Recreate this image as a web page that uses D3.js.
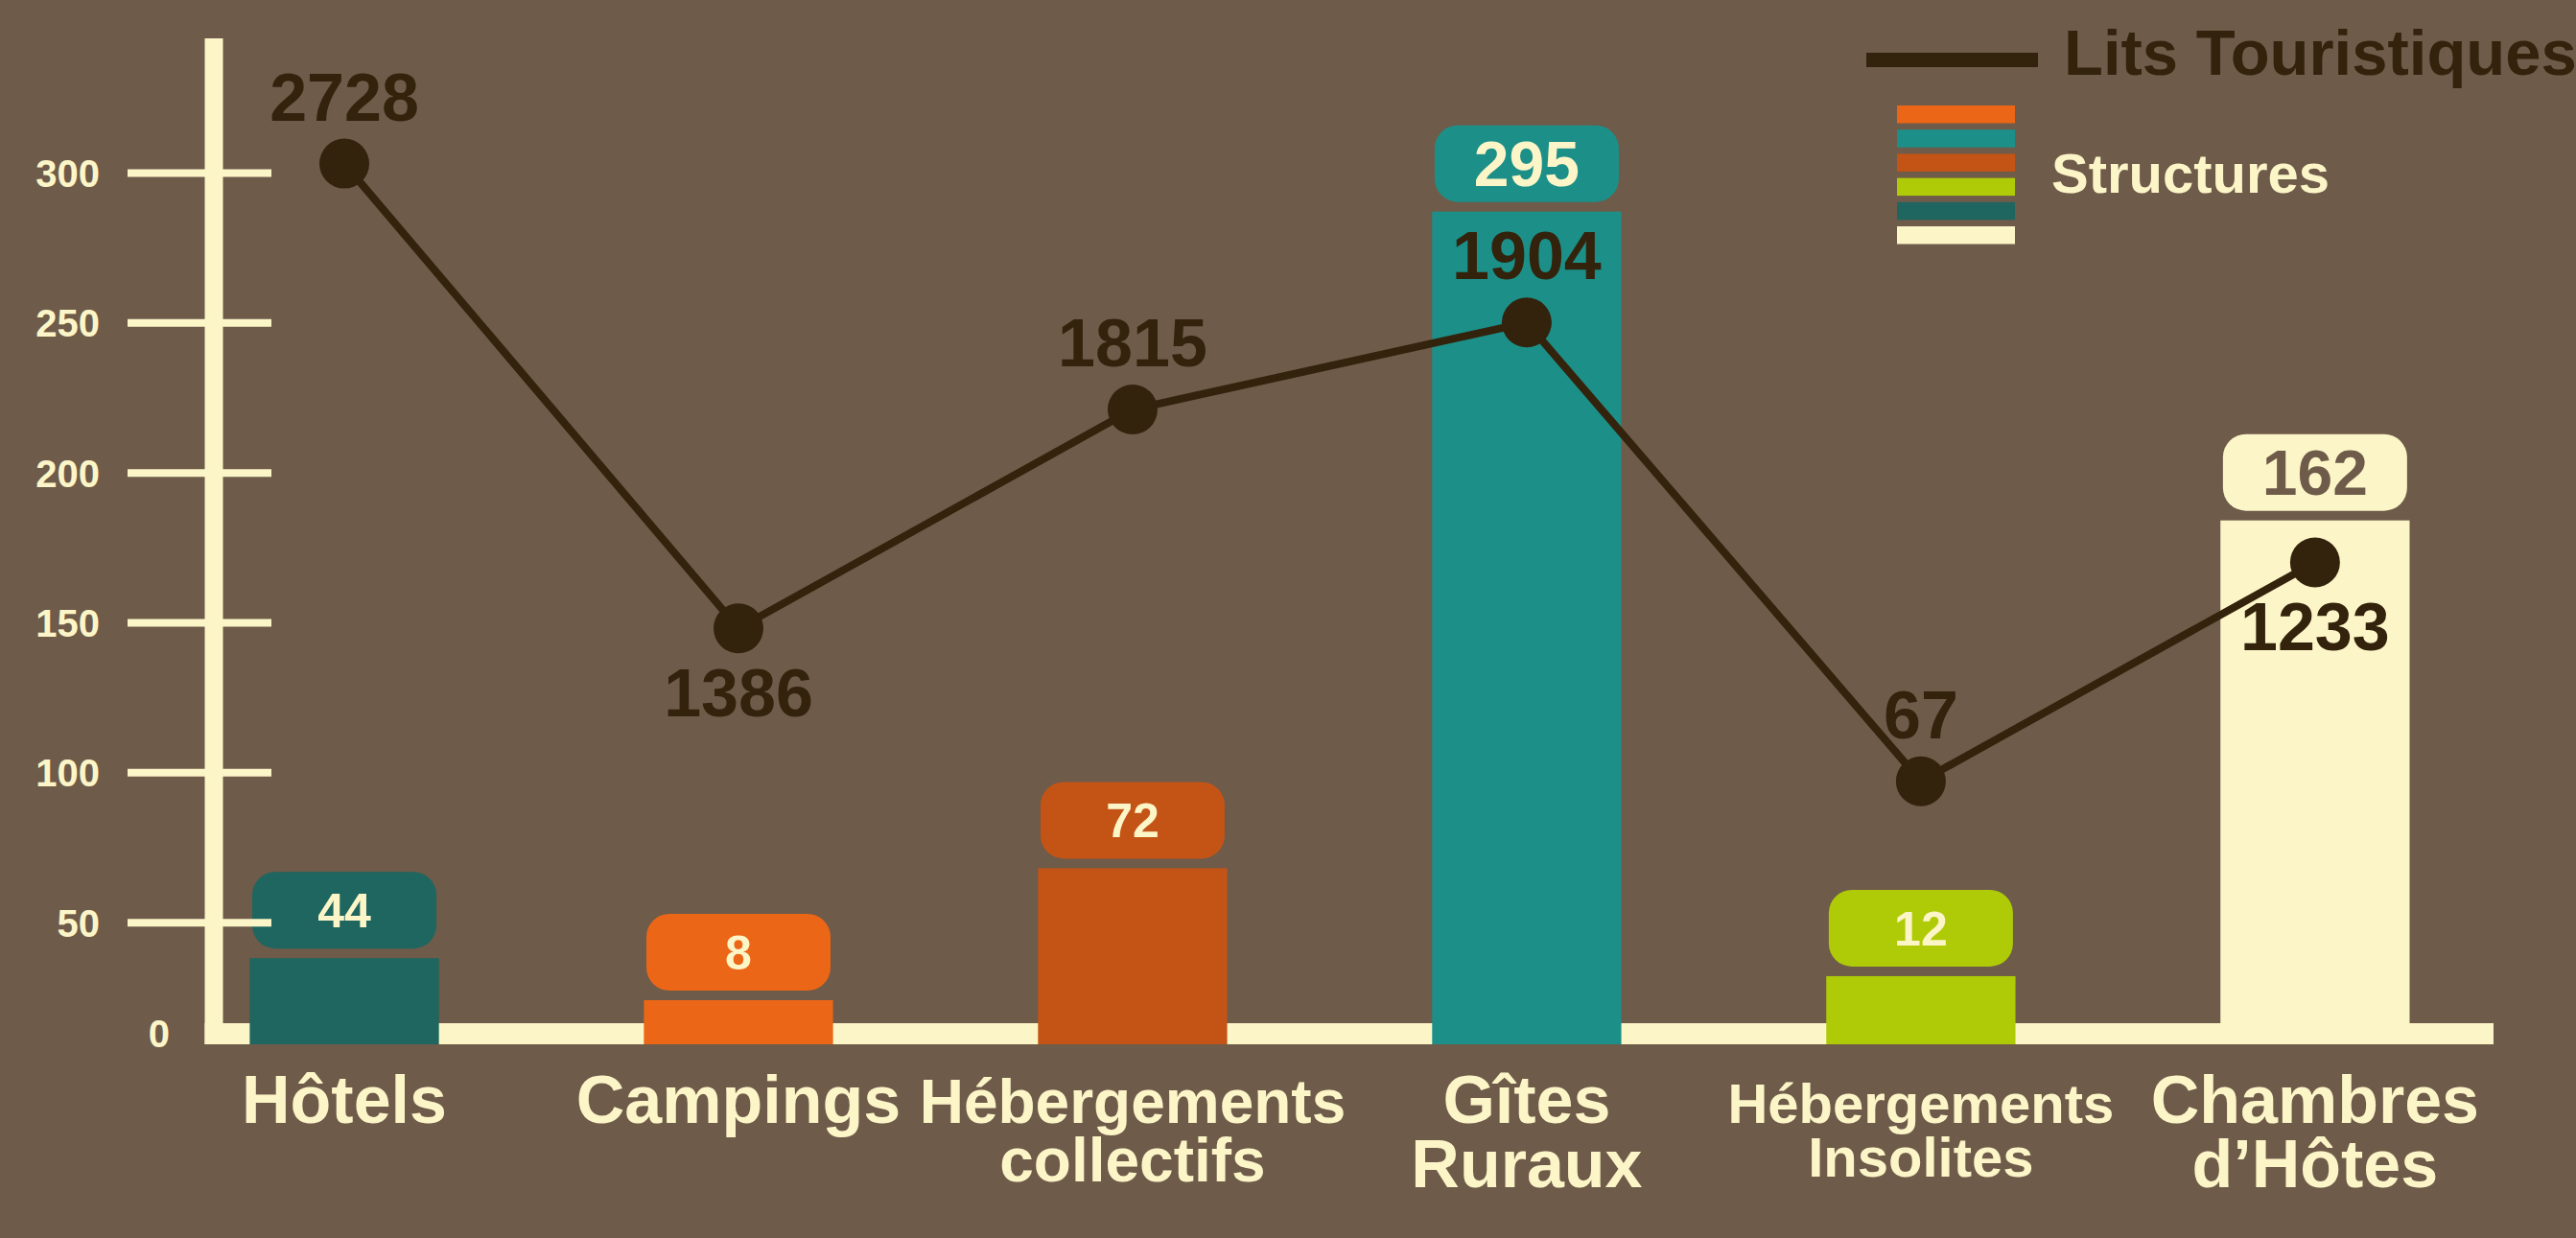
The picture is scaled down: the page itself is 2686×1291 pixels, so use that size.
<!DOCTYPE html>
<html>
<head>
<meta charset="utf-8">
<script src="https://cdn.jsdelivr.net/npm/d3@7"></script>
<style>
    html, body { margin: 0; padding: 0; background: #6e5b4a; }
    svg { display: block; }
    text { font-family: 'Liberation Sans', Arial, sans-serif; font-weight: bold; }
</style>
</head>
<body>
<div id="chart"></div>
<script>
const categories = [
    ['Hôtels'],
    ['Campings'],
    ['Hébergements', 'collectifs'],
    ['Gîtes', 'Ruraux'],
    ['Hébergements', 'Insolites'],
    ['Chambres', 'd’Hôtes']
];
// number of structures (label in the bubble)
const structures = [44, 8, 72, 295, 12, 162];
// height of each bar as it is drawn, in axis units
const structureBars = [38, 24, 68, 287, 32, 184];
// number of tourist beds (label on the line)
const lits = [2728, 1386, 1815, 1904, 67, 1233];
// height of each line point as it is drawn, in axis units
const litsLevels = [303, 148, 221, 250, 97, 170];
const yTicks = [0, 50, 100, 150, 200, 250, 300];

// Styles
const colors = {
    bg: '#6e5b4a',
    cream: '#fcf5c7',
    dark: '#33230d'
};
const barColors = ['#1e665f', '#eb6617', '#c45416', '#1c9088', '#afcb08', '#fcf5c7'];
const legendOrder = [1, 3, 2, 4, 0, 5];          // stripe order in the legend
const labelSizes = [70, 70, 64, 70, 58, 70];       // category label font sizes
const litsSide = ['above', 'below', 'above', 'above', 'above', 'below'];

const width = 2686, height = 1291;
const axisX = 223, axisTop = 40,
      baseTop = 1067, baseBottom = 1089, baseRight = 2600;

const svg = d3.select('#chart').append('svg')
    .attr('width', width)
    .attr('height', height)
    .style('background', colors.bg);

// Scales
const idx = d3.range(categories.length);
const x = d3.scaleBand()
    .domain(idx)
    .range([axisX + 9, baseRight])
    .paddingInner(0.52)
    .paddingOuter(0.141)
    .align(0.245);
const y = d3.scaleLinear()
    .domain([0, 300])
    .range([1118, 180]);
const cx = i => x(i) + x.bandwidth() / 2;

// Base line
svg.append('rect')
    .attr('x', axisX - 9.5).attr('y', baseTop)
    .attr('width', baseRight - axisX + 9.5).attr('height', baseBottom - baseTop)
    .attr('fill', colors.cream);

// Bars
svg.append('g').selectAll('rect.bar')
    .data(idx)
    .join('rect')
    .classed('bar', true)
    .attr('x', i => x(i))
    .attr('y', i => y(structureBars[i]))
    .attr('width', x.bandwidth())
    .attr('height', i => baseBottom - y(structureBars[i]))
    .attr('fill', i => barColors[i]);

// Value bubbles above the bars
const bubbleW = 192, bubbleH = 80, bubbleGap = 10;
const bubbles = svg.append('g').selectAll('g.bubble')
    .data(idx)
    .join('g')
    .classed('bubble', true)
    .attr('transform', i => `translate(${cx(i)},${y(structureBars[i]) - bubbleGap - bubbleH / 2})`);
bubbles.append('rect')
    .attr('x', -bubbleW / 2).attr('y', -bubbleH / 2)
    .attr('width', bubbleW).attr('height', bubbleH)
    .attr('rx', 24)
    .attr('fill', i => barColors[i]);
bubbles.append('text')
    .attr('text-anchor', 'middle')
    .attr('dy', '0.36em')
    .attr('font-size', i => structures[i] >= 100 ? 66 : 50)
    .attr('fill', i => i === 5 ? colors.bg : colors.cream)
    .text(i => structures[i]);

// Y axis
const yAxis = d3.axisLeft(y).tickValues(yTicks.filter(d => d > 0));
const gAxis = svg.append('g')
    .attr('transform', `translate(${axisX},0)`)
    .call(yAxis);
gAxis.select('.domain').remove();
gAxis.selectAll('.tick line')
    .attr('x1', 60).attr('x2', -90)
    .attr('stroke', colors.cream)
    .attr('stroke-width', 8);
gAxis.selectAll('.tick text')
    .attr('x', -119)
    .attr('dy', '0.36em')
    .attr('fill', colors.cream)
    .attr('font-size', 40)
    .attr('font-family', null);
svg.append('rect')
    .attr('x', axisX - 9.5).attr('y', axisTop)
    .attr('width', 19).attr('height', baseBottom - axisTop)
    .attr('fill', colors.cream);
// the zero sits on the base line in the original
svg.append('text')
    .attr('x', axisX - 46).attr('y', (baseTop + baseBottom) / 2)
    .attr('dy', '0.36em')
    .attr('text-anchor', 'end')
    .attr('font-size', 40)
    .attr('fill', colors.cream)
    .text(yTicks[0]);

// Category labels
svg.append('g').selectAll('text.cat')
    .data(idx)
    .join('text')
    .classed('cat', true)
    .attr('text-anchor', 'middle')
    .attr('font-size', i => labelSizes[i])
    .attr('fill', colors.cream)
    .each(function(i){
        d3.select(this).selectAll('tspan')
            .data(categories[i])
            .join('tspan')
            .attr('x', cx(i))
            .attr('y', (d, k) => 1171 + k * labelSizes[i] * 0.96)
            .text(d => d);
    });

// Line: lits touristiques
const line = d3.line()
    .x(i => cx(i))
    .y(i => y(litsLevels[i]));
svg.append('path')
    .datum(idx)
    .attr('d', line)
    .attr('fill', 'none')
    .attr('stroke', colors.dark)
    .attr('stroke-width', 8);
svg.append('g').selectAll('circle')
    .data(idx)
    .join('circle')
    .attr('cx', i => cx(i))
    .attr('cy', i => y(litsLevels[i]))
    .attr('r', 26)
    .attr('fill', colors.dark);
svg.append('g').selectAll('text.lits')
    .data(idx)
    .join('text')
    .classed('lits', true)
    .attr('x', i => cx(i))
    .attr('y', i => y(litsLevels[i]) + (litsSide[i] === 'above' ? -45 : 92))
    .attr('text-anchor', 'middle')
    .attr('font-size', 70)
    .attr('fill', colors.dark)
    .text(i => lits[i]);

// Legend
const legend = svg.append('g');
legend.append('rect')
    .attr('x', 1946).attr('y', 55)
    .attr('width', 179).attr('height', 15)
    .attr('fill', colors.dark);
legend.append('text')
    .attr('x', 2152).attr('y', 78)
    .attr('font-size', 67)
    .attr('fill', colors.dark)
    .text('Lits Touristiques');
legend.selectAll('rect.stripe')
    .data(legendOrder)
    .join('rect')
    .classed('stripe', true)
    .attr('x', 1978)
    .attr('y', (d, k) => 110 + k * 25.2)
    .attr('width', 123)
    .attr('height', 18.5)
    .attr('fill', d => barColors[d]);
legend.append('text')
    .attr('x', 2139).attr('y', 201)
    .attr('font-size', 58)
    .attr('fill', colors.cream)
    .text('Structures');
</script>
</body>
</html>
